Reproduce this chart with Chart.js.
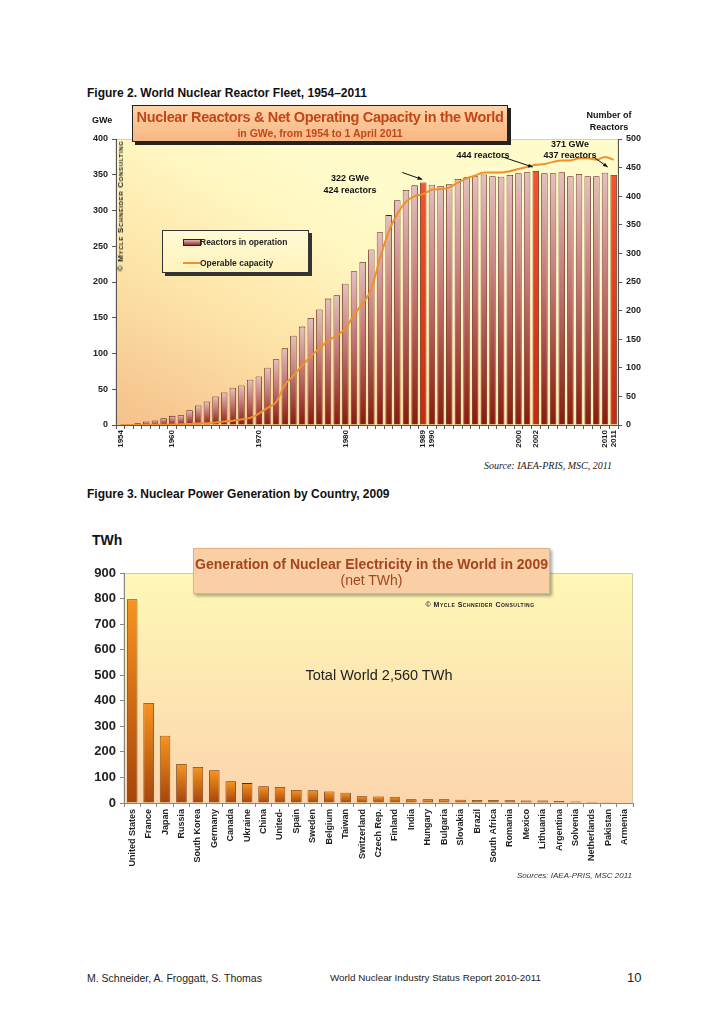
<!DOCTYPE html>
<html><head><meta charset="utf-8">
<script src="https://cdn.jsdelivr.net/npm/chart.js@4.4.1/dist/chart.umd.min.js"></script>
<style>
html,body{margin:0;padding:0;background:#fff;}
#page{position:relative;width:728px;height:1031px;overflow:hidden;font-family:"Liberation Sans",Arial,sans-serif;color:#111;}
.t{position:absolute;white-space:nowrap;line-height:1;}
.c{transform:translate(-50%,-50%);}
#c1wrap{position:absolute;left:80px;top:100px;width:570px;height:360px;}
#c2wrap{position:absolute;left:80px;top:555px;width:570px;height:345px;}
.b{font-weight:bold;}
</style></head><body><div id="page">

<div id="c1wrap"><canvas id="c1"></canvas></div>
<div id="c2wrap"><canvas id="c2"></canvas></div>

<div class="t b" style="left:87px;top:87px;font-size:12px;">Figure 2. World Nuclear Reactor Fleet, 1954–2011</div>
<div class="t b" style="left:92px;top:116px;font-size:9px;">GWe</div>
<div class="t b c" style="left:609px;top:115px;font-size:9px;">Number of</div>
<div class="t b c" style="left:609px;top:127px;font-size:9px;">Reactors</div>

<div class="t" style="left:132px;top:105px;width:374px;height:35px;background:linear-gradient(#fdd3a6,#f8b682);border:1px solid #222;box-shadow:3px 3px 0 #222;text-align:center;color:#c2461a;">
  <div class="b" style="font-size:14.5px;letter-spacing:-0.35px;margin-top:4px;">Nuclear Reactors &amp; Net Operating Capacity in the World</div>
  <div class="b" style="font-size:10.5px;margin-top:3px;">in GWe, from 1954 to 1 April 2011</div>
</div>

<div class="t b c" style="left:121px;top:206px;font-size:8px;font-variant:small-caps;letter-spacing:0.65px;transform:translate(-50%,-50%) rotate(-90deg);color:#222;">© Mycle Schneider Consulting</div>

<div class="t" style="left:162px;top:230px;width:145px;height:41px;background:linear-gradient(#fffbd6,#fff3bc);border:1px solid #333;box-shadow:3px 3px 0 #333;">
  <div style="position:absolute;left:20px;top:8px;width:16px;height:5px;border:1px solid #4a1a10;background:linear-gradient(#e2b8b8,#9a2c20);"></div>
  <div class="t b" style="left:37px;top:7px;font-size:8.5px;color:#222;">Reactors in operation</div>
  <div style="position:absolute;left:20px;top:31px;width:17px;height:0;border-top:2px solid #f0902a;"></div>
  <div class="t b" style="left:37px;top:28px;font-size:8.5px;color:#222;">Operable capacity</div>
</div>

<div class="t b c" style="left:350px;top:178px;font-size:9px;">322 GWe</div>
<div class="t b c" style="left:350px;top:190px;font-size:9px;">424 reactors</div>
<div class="t b c" style="left:483px;top:155px;font-size:9px;">444 reactors</div>
<div class="t b c" style="left:570px;top:144px;font-size:9px;">371 GWe</div>
<div class="t b c" style="left:570px;top:155px;font-size:9px;">437 reactors</div>

<div class="t" style="right:116px;top:461px;font-size:10px;font-style:italic;font-family:'Liberation Serif','Times New Roman',serif;color:#222;">Source: IAEA-PRIS, MSC, 2011</div>

<div class="t b" style="left:87px;top:488px;font-size:12px;">Figure 3. Nuclear Power Generation by Country, 2009</div>
<div class="t b" style="left:92px;top:533px;font-size:14px;">TWh</div>

<div class="t" style="left:193px;top:548px;width:355px;height:44px;background:#fbcfa6;border:1px solid #e8b080;box-shadow:2px 2px 3px rgba(0,0,0,0.35);text-align:center;color:#a3461e;">
  <div class="b" style="font-size:14px;margin-top:8px;">Generation of Nuclear Electricity in the World in 2009</div>
  <div style="font-size:14px;margin-top:2px;">(net TWh)</div>
</div>
<div class="t c" style="left:480px;top:604px;font-size:7px;font-variant:small-caps;letter-spacing:0.5px;color:#222;font-weight:bold;">© Mycle Schneider Consulting</div>
<div class="t c" style="left:379px;top:675px;font-size:14.5px;color:#222;">Total World 2,560 TWh</div>

<div class="t" style="right:96px;top:872px;font-size:8px;font-style:italic;color:#333;">Sources: IAEA-PRIS, MSC 2011</div>

<div class="t" style="left:87px;top:973px;font-size:10.5px;color:#222;">M. Schneider, A. Froggatt, S. Thomas</div>
<div class="t" style="left:330px;top:973px;font-size:9.8px;color:#222;">World Nuclear Industry Status Report 2010-2011</div>
<div class="t" style="left:627px;top:971px;font-size:13px;color:#222;">10</div>

</div>
<script>
const years = ['1954','1955','1956','1957','1958','1959','1960','1961','1962','1963','1964','1965','1966','1967','1968','1969','1970','1971','1972','1973','1974','1975','1976','1977','1978','1979','1980','1981','1982','1983','1984','1985','1986','1987','1988','1989','1990','1991','1992','1993','1994','1995','1996','1997','1998','1999','2000','2001','2002','2003','2004','2005','2006','2007','2008','2009','2010','2011'];
const reactors = [1,1,3,6,8,12,16,17,26,34,41,50,57,65,69,79,85,100,115,134,156,172,187,202,221,227,247,269,285,307,337,367,393,411,419,424,420,418,421,430,433,435,438,435,434,437,440,442,444,440,440,442,435,439,435,435,441,437];
const capacity = [0.005,0.005,0.05,0.1,0.2,0.4,0.8,0.9,1.5,2.2,2.5,3.5,5,6,8,10,16,24,32,56,69,83,96,107,118,125,135,154,170,190,233,270,295,312,320,323,329,330,332,339,345,349,353,353,353,355,358,361,364,365,368,370,370,373,373,371,375,371];
const shownYearLabels = ['1954','1960','1970','1980','1989','1990','2000','2002','2010','2011'];
const highlightYears = ['1989','2002','2011'];

const countries = ['United States','France','Japan','Russia','South Korea','Germany','Canada','Ukraine','China','United-','Spain','Sweden','Belgium','Taiwan','Switzerland','Czech Rep.','Finland','India','Hungary','Bulgaria','Slovakia','Brazil','South Africa','Romania','Mexico','Lithuania','Argentina','Solvenia','Netherlands','Pakistan','Armenia'];
const twh = [796.9,391.7,263.1,152.8,141.1,127.7,85.3,77.9,65.7,62.9,50.6,50.0,45.0,39.9,26.3,25.7,22.6,14.8,14.3,14.2,13.1,12.2,11.6,10.8,10.1,10.0,7.6,5.5,4.0,2.6,2.3];

Chart.defaults.font.family = '"Liberation Sans", Arial, sans-serif';
Chart.defaults.color = '#222';

function reactorGrad(c){
  const chart = c.chart, a = chart.chartArea;
  if(!a || c.type !== 'data') return '#b05050';
  const ys = chart.scales.y1;
  const top = ys.getPixelForValue(c.raw), bot = ys.getPixelForValue(0);
  const g = chart.ctx.createLinearGradient(0, top, 0, bot + 0.01);
  if(highlightYears.includes(years[c.dataIndex])){
    g.addColorStop(0,'#f4552c'); g.addColorStop(1,'#c8290f');
  } else {
    g.addColorStop(0,'#e4c0c0'); g.addColorStop(0.45,'#c27474'); g.addColorStop(1,'#881a0e');
  }
  return g;
}

const bg1 = {
  id:'bg1',
  beforeDraw(chart){
    const {ctx, chartArea:a} = chart;
    const g = ctx.createLinearGradient(a.left, a.bottom, a.left + a.width*0.3, a.top);
    g.addColorStop(0,'#f5c08b'); g.addColorStop(0.45,'#fde3a6'); g.addColorStop(0.8,'#fff6c0'); g.addColorStop(1,'#fffbca');
    ctx.save(); ctx.fillStyle = g; ctx.fillRect(a.left, a.top, a.width, a.height);
    ctx.strokeStyle = '#d8d0b0'; ctx.lineWidth = 1; ctx.strokeRect(a.left, a.top+0.5, a.width, a.height);
    ctx.restore();
  },
  afterDatasetsDraw(chart){
    const {ctx} = chart; const xs = chart.scales.x, ys = chart.scales.y1;
    const arrows = [['1989',-1,-3,-20,-7],['2002',-3,-4,-30,-10],['2011',-6,-8,-14,-10]];
    ctx.save(); ctx.strokeStyle = '#111'; ctx.fillStyle = '#111'; ctx.lineWidth = 1;
    arrows.forEach(([yr,dx,dy,sx,sy])=>{
      const i = years.indexOf(yr);
      const tx = xs.getPixelForValue(i) + dx, ty = ys.getPixelForValue(reactors[i]) + dy;
      const fx = tx + sx, fy = ty + sy;
      ctx.beginPath(); ctx.moveTo(fx, fy); ctx.lineTo(tx, ty); ctx.stroke();
      const ang = Math.atan2(ty-fy, tx-fx), L = 5;
      ctx.beginPath(); ctx.moveTo(tx, ty);
      ctx.lineTo(tx - L*Math.cos(ang-0.4), ty - L*Math.sin(ang-0.4));
      ctx.lineTo(tx - L*Math.cos(ang+0.4), ty - L*Math.sin(ang+0.4));
      ctx.closePath(); ctx.fill();
    });
    ctx.restore();
  }
};

new Chart(document.getElementById('c1'), {
  type:'bar',
  data:{
    labels: years,
    datasets:[
      {type:'line', label:'Operable capacity', data:capacity, yAxisID:'y', borderColor:'#f0902a', borderWidth:2, pointRadius:0, cubicInterpolationMode:'monotone', order:0},
      {type:'bar', label:'Reactors in operation', data:reactors, yAxisID:'y1', backgroundColor:reactorGrad, borderColor:'#5a1c12', borderWidth:0.8, categoryPercentage:0.8, barPercentage:0.93, order:1}
    ]
  },
  options:{
    responsive:true, maintainAspectRatio:false, animation:false,
    layout:{padding:{top:39,left:0,right:0,bottom:0}},
    plugins:{legend:{display:false}, tooltip:{enabled:false}},
    scales:{
      x:{
        offset:true,
        grid:{display:true, drawOnChartArea:false, drawTicks:true, tickLength:4, color:'#555', offset:true},
        border:{display:true, color:'#555'},
        ticks:{autoSkip:false, maxRotation:90, minRotation:90, padding:1, font:{size:8, weight:'bold'},
          callback(v,i){ return shownYearLabels.includes(years[i]) ? years[i] : ''; }},
        afterFit(s){ s.height = 35; }
      },
      y:{
        position:'left', min:0, max:400,
        grid:{display:true, drawOnChartArea:false, tickLength:4, color:'#555'},
        border:{display:true, color:'#555'},
        ticks:{stepSize:50, padding:4, font:{size:9, weight:'bold'}},
        afterFit(s){ s.width = 36; }
      },
      y1:{
        position:'right', min:0, max:500,
        grid:{display:true, drawOnChartArea:false, tickLength:4, color:'#555'},
        border:{display:true, color:'#555'},
        ticks:{stepSize:50, padding:4, font:{size:9, weight:'bold'}},
        afterFit(s){ s.width = 32; }
      }
    }
  },
  plugins:[bg1]
});

function orangeGrad(c){
  const chart = c.chart, a = chart.chartArea;
  if(!a || c.type !== 'data') return '#e07820';
  const ys = chart.scales.y;
  const top = ys.getPixelForValue(c.raw), bot = ys.getPixelForValue(0);
  const g = chart.ctx.createLinearGradient(0, top, 0, bot + 0.01);
  g.addColorStop(0,'#f8941f'); g.addColorStop(1,'#a5450c');
  return g;
}

const bg2 = {
  id:'bg2',
  beforeDraw(chart){
    const {ctx, chartArea:a} = chart;
    const g = ctx.createLinearGradient(0, a.top, 0, a.bottom);
    g.addColorStop(0,'#fef8b6'); g.addColorStop(1,'#fcd5ad');
    ctx.save(); ctx.fillStyle = g; ctx.fillRect(a.left, a.top, a.width, a.height);
    ctx.strokeStyle = '#cfcca8'; ctx.lineWidth = 1; ctx.strokeRect(a.left, a.top+0.5, a.width-0.5, a.height);
    ctx.restore();
  }
};

new Chart(document.getElementById('c2'), {
  type:'bar',
  data:{labels:countries, datasets:[{data:twh, backgroundColor:orangeGrad, borderColor:'#5e2a0a', borderWidth:0.8, categoryPercentage:0.8, barPercentage:0.8}]},
  options:{
    responsive:true, maintainAspectRatio:false, animation:false,
    layout:{padding:{top:18,left:0,right:17,bottom:0}},
    plugins:{legend:{display:false}, tooltip:{enabled:false}},
    scales:{
      x:{
        grid:{display:true, drawOnChartArea:false, tickLength:4, color:'#888', offset:true},
        border:{display:true, color:'#888'},
        ticks:{autoSkip:false, maxRotation:90, minRotation:90, padding:2, font:{size:9, weight:'bold'}},
        afterFit(s){ s.height = 97; }
      },
      y:{
        min:0, max:900,
        grid:{display:true, drawOnChartArea:false, tickLength:4, color:'#888'},
        border:{display:true, color:'#888'},
        ticks:{stepSize:100, padding:4, font:{size:13, weight:'bold'}},
        afterFit(s){ s.width = 44; }
      }
    }
  },
  plugins:[bg2]
});
</script>
</body></html>
